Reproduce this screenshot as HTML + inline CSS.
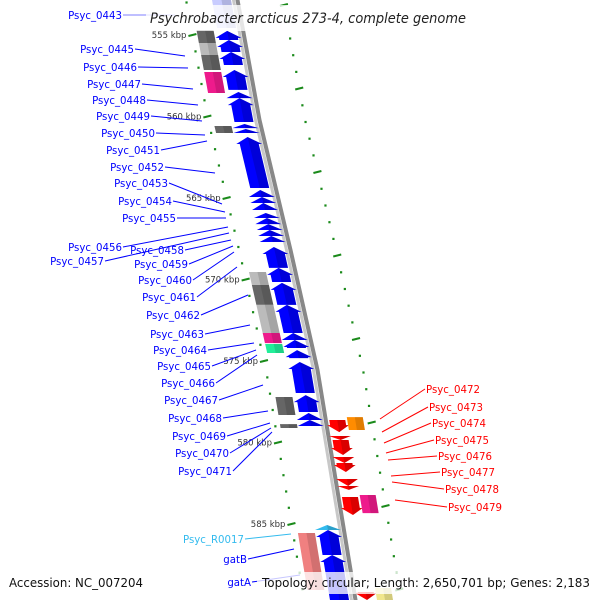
<!DOCTYPE html>
<html><head><meta charset="utf-8">
<style>
html,body{margin:0;padding:0;background:#fff;}
svg{display:block;font-family:"DejaVu Sans","Liberation Sans",sans-serif;}
</style></head>
<body>
<svg id="map" width="600" height="600" viewBox="0 0 600 600" xmlns="http://www.w3.org/2000/svg">
<g id="ticks"></g>
<g id="backbone"></g>
<g id="genes"></g>
<g id="labels"></g>
<rect x="146" y="5" width="324" height="26" fill="#fff" fill-opacity="0.78"/>
<text x="150" y="23" font-size="14" font-style="italic" fill="#222" textLength="316" lengthAdjust="spacingAndGlyphs">Psychrobacter arcticus 273-4, complete genome</text>
<rect x="257" y="572" width="340" height="22" fill="#fff" fill-opacity="0.78"/>
<text x="9" y="587" font-size="12.5" fill="#111" textLength="134" lengthAdjust="spacingAndGlyphs">Accession: NC_007204</text>
<text x="262" y="587" font-size="12.5" fill="#111" textLength="328" lengthAdjust="spacingAndGlyphs">Topology: circular; Length: 2,650,701 bp; Genes: 2,183</text>
</svg>
<script>
// ---- data (kbp coordinates) ----
const fwdStart = [552.85,554.75,555.31,556.04,557.15,558.50,558.87,560.46,560.77,561.26,564.51,564.94,565.31,565.92,566.23,566.60,566.96,567.33,568.01,569.29,570.21,571.56,573.28,573.71,574.33,575.06,577.09,578.19,578.62,585.06,585.37,586.90];
const fwdEnd   = [554.57,555.31,556.04,556.84,558.37,558.87,560.34,560.71,561.01,564.39,564.94,565.31,565.74,566.23,566.60,566.96,567.33,567.70,569.29,570.15,571.56,573.28,573.71,574.20,574.82,576.96,578.13,578.62,578.99,585.37,586.90,589.66];
const fwdColor = ['#c8ccff','#0000ff','#0000ff','#0000ff','#0000ff','#0000ff','#0000ff','#0000ff','#0000ff','#0000ff','#0000ff','#0000ff','#0000ff','#0000ff','#0000ff','#0000ff','#0000ff','#0000ff','#0000ff','#0000ff','#0000ff','#0000ff','#0000ff','#0000ff','#0000ff','#0000ff','#0000ff','#0000ff','#0000ff','#33bbee','#0000ff','#0000ff'];
const blkStart = [554.69,555.49,556.23,557.27,560.58,569.54,570.34,571.56,573.28,573.96,577.21,578.87,585.55];
const blkEnd   = [555.49,556.23,557.15,558.56,561.01,570.34,571.56,573.28,573.90,574.51,578.31,579.11,589.05];
const blkColor = ['#666','#bbb','#666','#ee1b8c','#666','#bbb','#666','#bbb','#ee1b8c','#22ee99','#666','#666','#f08080'];
const revStart = [578.62,579.60,579.85,580.89,581.26,582.24,582.67,583.34,589.17];
const revEnd   = [579.36,579.85,580.77,581.26,581.81,582.67,582.91,584.45,589.66];
const outStart = [578.44,583.22,588.93];
const outEnd   = [579.23,584.33,589.66];
const outColor = ['#ff8c00','#ee1b8c','#f0e68c'];
const leftTickKbp = [552,553,554,555,556,557,558,559,560,561,562,563,564,565,566,567,568,569,570,571,572,573,574,575,576,577,578,579,580,581,582,583,584,585,586,587,588,589,590];
const majorTickLabels = ['555 kbp','560 kbp','565 kbp','570 kbp','575 kbp','580 kbp','585 kbp'];
const majorTickKbp = [555,560,565,570,575,580,585];
const rightTickIdx = [0,1,2,3,4,5,6,7,8,9,10,11,12,13,14,15,16,17,18,19,20,21,22,23,24,25,26,27,28,29,30,31,32,33,34,35];
const leftLabels = ['Psyc_0443','Psyc_0445','Psyc_0446','Psyc_0447','Psyc_0448','Psyc_0449','Psyc_0450','Psyc_0451','Psyc_0452','Psyc_0453','Psyc_0454','Psyc_0455','Psyc_0456','Psyc_0457','Psyc_0458','Psyc_0459','Psyc_0460','Psyc_0461','Psyc_0462','Psyc_0463','Psyc_0464','Psyc_0465','Psyc_0466','Psyc_0467','Psyc_0468','Psyc_0469','Psyc_0470','Psyc_0471','Psyc_R0017','gatB','gatA'];
const rightLabels = ['Psyc_0472','Psyc_0473','Psyc_0474','Psyc_0475','Psyc_0476','Psyc_0477','Psyc_0478','Psyc_0479'];

// ---- label layout (annotation placement) ----
const leftLayout = [[122,15,175,15],[134,49,185,56],[137,67,188,68],[141,84,193,89],[146,100,198,105],[150,116,202,121],[155,133,205,135],[160,150,207,141],[164,167,215,173],[168,183,222,204],[172,201,225,212],[176,218,226,218],[122,247,228,227],[104,261,229,233],[184,250,231,240],[188,264,233,246],[192,280,234,252],[196,297,237,267],[200,315,248,295],[204,334,250,325],[207,350,254,343],[211,366,256,350],[215,383,257,355],[218,400,263,385],[222,418,268,411],[226,436,270,423],[229,453,271,428],[232,471,272,432],[244,539,291,534],[247,559,294,549],[251,582,300,575]];
const rightLayout = [[426,389,380,419],[429,407,382,432],[432,423,384,443],[435,440,386,453],[438,456,388,460],[441,472,391,476],[445,489,392,482],[448,507,395,500]];

// ---- scales ----
const NS='http://www.w3.org/2000/svg';
function yS(k){return 35+(k-555)*16.3;}
const bbPts=[[0,236],[120,258],[250,289],[370,316],[600,354]];
function bb(y){
  if(y<=bbPts[0][0]) return bbPts[0][1]+(y-bbPts[0][0])*0.183;
  for(let i=1;i<bbPts.length;i++){
    if(y<=bbPts[i][0]){const a=bbPts[i-1],b=bbPts[i];return a[1]+(y-a[0])*(b[1]-a[1])/(b[0]-a[0]);}
  }
  const a=bbPts[bbPts.length-2],b=bbPts[bbPts.length-1];
  return b[1]+(y-b[0])*(b[1]-a[1])/(b[0]-a[0]);
}
function mk(tag,attrs,parent){const e=document.createElementNS(NS,tag);for(const k in attrs)e.setAttribute(k,attrs[k]);parent.appendChild(e);return e;}
function P(y,o){return (bb(y)+o).toFixed(2)+','+y.toFixed(2);}

// backbone
const gB=document.getElementById('backbone');
let d1='',d2='';
for(let y=-5;y<=605;y+=5){d1+=(y<0?'M':'L')+(bb(y)-2.5)+','+y;d2+=(y<0?'M':'L')+(bb(y)+1.5)+','+y;}
let bl=mk('path',{d:d1,stroke:'#c8c8c8','stroke-width':3,fill:'none'},gB);


let bd=mk('path',{d:d2,stroke:'#888','stroke-width':4,fill:'none'},gB);



// ticks
const gT=document.getElementById('ticks');
leftTickKbp.forEach(k=>{
  const y=yS(k), x=bb(y)-50, major=(k%5===0);
  let t;
  if(major) t=mk('line',{x1:x-4,y1:y+1,x2:x+4,y2:y-1,stroke:'#1a8a1a','stroke-width':2},gT);
  else t=mk('rect',{x:x-1,y:y-1,width:2.2,height:2.2,fill:'#1a8a1a'},gT);
  
  
});
majorTickKbp.forEach((k,i)=>{
  const y=yS(k);
  const t=mk('text',{x:bb(y)-56,y:y+3,'font-size':8.5,fill:'#333','text-anchor':'end'},gT);
  t.textContent=majorTickLabels[i];
  
  
});
rightTickIdx.forEach(i=>{
  const y=5+i*16.7, x=bb(y)+47, major=(i%5===0);
  let t;
  if(major) t=mk('line',{x1:x-4,y1:y+1,x2:x+4,y2:y-1,stroke:'#1a8a1a','stroke-width':2},gT);
  else t=mk('rect',{x:x-1,y:y-1,width:2.2,height:2.2,fill:'#1a8a1a'},gT);
  
  
});

// genes
const gG=document.getElementById('genes');
function box(y0,y1,o1,o2,color,name){
  const p=mk('polygon',{points:[P(y0,o1),P(y0,o2),P(y1,o2),P(y1,o1)].join(' '),fill:color},gG);
  
  
  const s=mk('polygon',{points:[P(y0,(o1+o2)/2),P(y0,o2),P(y1,o2),P(y1,(o1+o2)/2)].join(' '),fill:'#000','fill-opacity':0.12},gG);
  
  
}
function arrow(y0,y1,o1,o2,color,up,name){
  const h=Math.min(7,y1-y0), oc=(o1+o2)/2, w=(o2-o1)*0.18;
  let pts;
  if(up) pts=[P(y0,oc),P(y0+h,o2+w),P(y0+h,o2),P(y1,o2),P(y1,o1),P(y0+h,o1),P(y0+h,o1-w)];
  else pts=[P(y1,oc),P(y1-h,o2+w),P(y1-h,o2),P(y0,o2),P(y0,o1),P(y1-h,o1),P(y1-h,o1-w)];
  const p=mk('polygon',{points:pts.join(' '),fill:color},gG);
  
  
  let sp;
  if(up) sp=[P(y0,oc),P(y0+h,o2+w),P(y0+h,o2),P(y1,o2),P(y1,oc)];
  else sp=[P(y1,oc),P(y1-h,o2+w),P(y1-h,o2),P(y0,o2),P(y0,oc)];
  const s=mk('polygon',{points:sp.join(' '),fill:'#000','fill-opacity':0.15},gG);
  
  
}
fwdStart.forEach((k,i)=>{
  const y0=yS(k),y1=yS(fwdEnd[i]);
  if(i===0) box(y0,y1,-24,-5,fwdColor[i],'forward-gene');
  else arrow(y0,y1,-24,-5,fwdColor[i],true,'forward-gene');
});
blkStart.forEach((k,i)=>{box(yS(k),yS(blkEnd[i]),-45,-28,blkColor[i],'feature-block');});
revStart.forEach((k,i)=>{arrow(yS(k),yS(revEnd[i]),5,21,'#ff0000',false,'reverse-gene');});
outStart.forEach((k,i)=>{box(yS(k),yS(outEnd[i]),23,39,outColor[i],'outer-feature');});

// labels
const gL=document.getElementById('labels');
leftLabels.forEach((n,i)=>{
  const L=leftLayout[i];
  const col = n==='Psyc_R0017' ? '#33bbee' : '#0000ff';
  const ln=mk('line',{x1:L[0]+1,y1:L[1],x2:L[2],y2:L[3],stroke:col,'stroke-width':1,'stroke-opacity':i===0?0.5:1},gL);
  
  
  const t=mk('text',{x:L[0],y:L[1]+4,'font-size':10.2,fill:col,'text-anchor':'end'},gL);
  t.textContent=n;
  
  
});
rightLabels.forEach((n,i)=>{
  const L=rightLayout[i];
  const ln=mk('line',{x1:L[2],y1:L[3],x2:L[0]-1,y2:L[1],stroke:'#ff0000','stroke-width':1},gL);
  
  
  const t=mk('text',{x:L[0],y:L[1]+4,'font-size':10.2,fill:'#ff0000'},gL);
  t.textContent=n;
  
  
});
</script>
</body></html>
